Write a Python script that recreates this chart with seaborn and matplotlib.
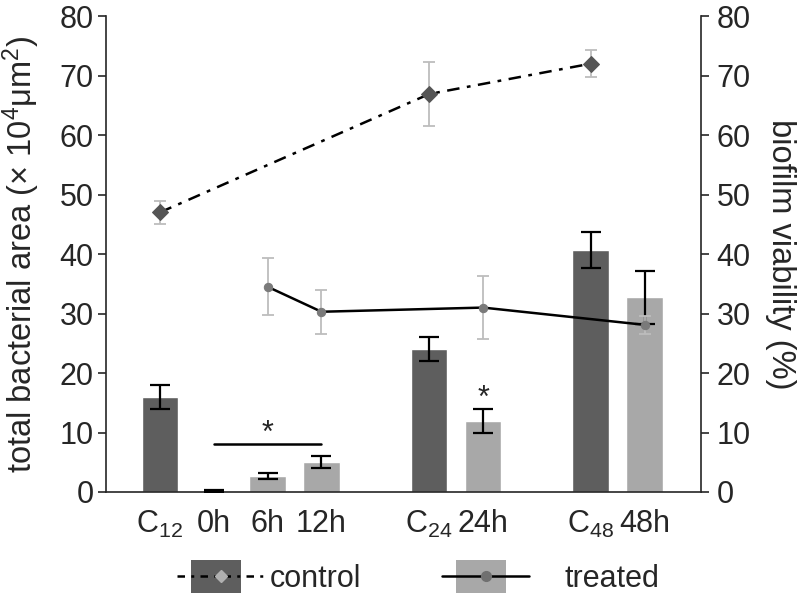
import matplotlib
matplotlib.use("Agg")
import matplotlib.pyplot as plt
import seaborn as sns
import pandas as pd
from matplotlib.patches import Patch, Rectangle
from matplotlib.lines import Line2D
from matplotlib.legend_handler import HandlerTuple, HandlerPatch

sns.set_style("ticks")
plt.rcParams['font.family'] = ['Liberation Sans', 'DejaVu Sans']
plt.rcParams['mathtext.fontset'] = 'custom'
plt.rcParams['mathtext.rm'] = 'Liberation Sans'
plt.rcParams['mathtext.it'] = 'Liberation Sans'
plt.rcParams['mathtext.default'] = 'regular'

# ---- data ----
categories = ["C$_{12}$", "0h", "6h", "12h", "C$_{24}$", "24h", "C$_{48}$", "48h"]
groups = ["control", "treated", "treated", "treated", "control", "treated", "control", "treated"]
bar_values = [16.0, 0.2, 2.7, 5.0, 24.0, 11.9, 40.7, 32.7]
bar_errors = [2.0, 0.15, 0.5, 1.0, 2.0, 2.0, 3.0, 4.5]

control_cats = ["C$_{12}$", "C$_{24}$", "C$_{48}$"]
control_viability = [47.0, 66.9, 72.0]
control_err = [1.9, 5.3, 2.3]

treated_cats = ["6h", "12h", "24h", "48h"]
treated_viability = [34.5, 30.3, 31.0, 28.1]
treated_err = [4.8, 3.7, 5.3, 1.5]

# layout (slot positions of categories)
x_pos = [0, 1, 2, 3, 5, 6, 8, 9]
pos = dict(zip(categories, x_pos))

dark = "#5e5e5e"
light = "#a8a8a8"
FS = 22

df = pd.DataFrame({"x": x_pos, "y": bar_values, "group": groups})

fig = plt.figure(figsize=(8.0, 5.96), dpi=100)
ax = fig.add_axes([0.1325, 0.1745, 0.744, 0.7985])

sns.barplot(data=df, x="x", y="y", hue="group", palette={"control": dark, "treated": light},
            native_scale=True, width=0.68, dodge=False, legend=False, ax=ax,
            errorbar=None, saturation=1)
ax.errorbar(x_pos, bar_values, yerr=bar_errors, fmt="none", ecolor="black",
            elinewidth=1.6, capsize=7, capthick=1.6, zorder=5)

ax.set_xlim(-1, 10.05)
ax.set_ylim(0, 80)
ax.set_yticks(range(0, 81, 10))
ax.set_xticks(x_pos)
ax.set_xticklabels(categories)
ax.tick_params(axis="x", length=0, pad=12, labelsize=FS)
ax.tick_params(axis="y", length=6, width=1.2, labelsize=FS, direction="out", pad=3)
ax.set_xlabel("")
ax.set_ylabel("total bacterial area (× 10$^4$μm$^2$)", fontsize=23.5)
ax.yaxis.set_label_coords(-0.107, 0.5)
for s in ["top", "right"]:
    ax.spines[s].set_visible(False)
ax.spines["left"].set_linewidth(1.2)
ax.spines["bottom"].set_linewidth(1.2)

# significance markers
ax.plot([pos["0h"], pos["12h"]], [8.0, 8.0], color="black", lw=1.8)
ax.text((pos["0h"] + pos["12h"]) / 2, 7.3, "*", ha="center", va="bottom", fontsize=FS)
ax.text(pos["24h"], bar_values[5] + bar_errors[5] - 0.8, "*", ha="center", va="bottom", fontsize=FS)

# secondary axis lines
ax2 = ax.twinx()
cdf = pd.DataFrame({"x": [pos[c] for c in control_cats], "y": control_viability})
tdf = pd.DataFrame({"x": [pos[c] for c in treated_cats], "y": treated_viability})

ax2.errorbar(cdf["x"], cdf["y"], yerr=control_err, fmt="none", ecolor="#bdbdbd",
             elinewidth=1.3, capsize=4.5, capthick=1.3, zorder=2)
ax2.errorbar(tdf["x"], tdf["y"], yerr=treated_err, fmt="none", ecolor="#bdbdbd",
             elinewidth=1.3, capsize=4.5, capthick=1.3, zorder=2)
sns.lineplot(data=cdf, x="x", y="y", ax=ax2, color="black", lw=1.8,
             linestyle=(0, (5, 3, 1.5, 3)), marker="D", markersize=8,
             markerfacecolor="#555555", markeredgecolor="#555555", zorder=3)
sns.lineplot(data=tdf, x="x", y="y", ax=ax2, color="black", lw=1.8,
             marker="o", markersize=6, markerfacecolor="#7a7a7a",
             markeredgecolor="#7a7a7a", zorder=3)
ax2.set_ylim(0, 80)
ax2.set_yticks(range(0, 81, 10))
ax2.tick_params(axis="y", length=6, width=1.2, labelsize=FS, direction="out", pad=5)
ax2.set_xlabel("")
ax2.set_ylabel("biofilm viability (%)", fontsize=23.5, rotation=270, labelpad=33)
for s in ["top", "left", "bottom"]:
    ax2.spines[s].set_visible(False)
ax2.spines["right"].set_linewidth(1.2)


def small_patch(legend, orig_handle, xdescent, ydescent, width, height, fontsize):
    return Rectangle((-xdescent + width * 0.165, -ydescent - height * 0.28),
                     width * 0.57, height * 1.56)


hmap = {tuple: HandlerTuple(ndivide=1, pad=0),
        Patch: HandlerPatch(patch_func=small_patch)}

h_control = (Patch(facecolor=dark, edgecolor="none"),
             Line2D([], [], color="black", lw=1.8, linestyle=(0, (3, 2.5, 1.2, 2.5)),
                    marker="D", markersize=6, markerfacecolor="#b0b0b0",
                    markeredgecolor="#b0b0b0"))
h_treated = (Patch(facecolor=light, edgecolor="none"),
             Line2D([], [], color="black", lw=1.8, marker="o", markersize=7,
                    markerfacecolor="#707070", markeredgecolor="#707070"))

y_leg = 1 - 579 / 596
fig.legend([h_control], ["control"], handler_map=hmap,
           loc="center left", bbox_to_anchor=(177 / 800, y_leg), frameon=False,
           fontsize=FS, handlelength=2.85, handletextpad=0.19,
           borderpad=0, borderaxespad=0)
fig.legend([h_treated], ["treated"], handler_map=hmap,
           loc="center left", bbox_to_anchor=(442 / 800, y_leg), frameon=False,
           fontsize=FS, handlelength=2.85, handletextpad=1.15,
           borderpad=0, borderaxespad=0)

fig.savefig("out.png", dpi=100)
